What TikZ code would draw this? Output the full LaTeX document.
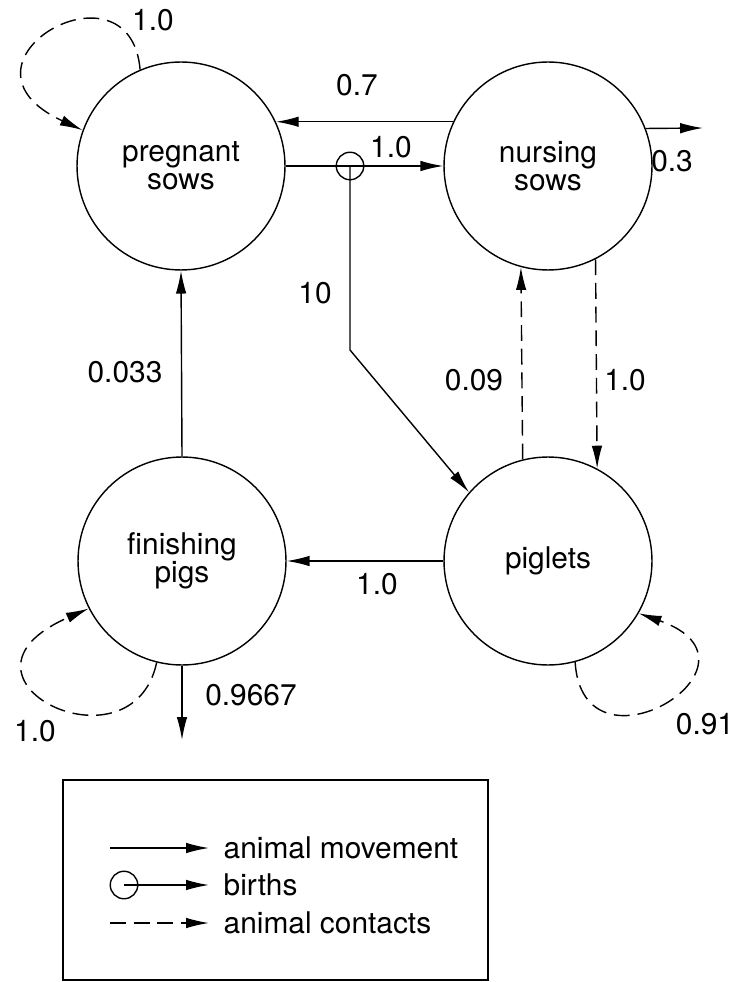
\documentclass[tikz,border=0pt]{standalone}
\usepackage{fontspec}
\setmainfont{TeX Gyre Heros}
\usetikzlibrary{arrows.meta}

\begin{document}
\begin{tikzpicture}[x=0.02cm,y=-0.02cm,line width=0.8pt,
  font=\fontsize{17}{16}\selectfont,
  state/.style={draw,circle,minimum size=4.16cm,inner sep=0pt,align=center},
  move/.style={-{Latex[length=13pt,width=6pt]}},
  contact/.style={move,dash pattern=on 9pt off 4.5pt},
  birth/.style={draw,circle,minimum size=0.55cm,inner sep=0pt}]
\useasboundingbox (0,0) rectangle (735,982);

% compartments
\node[state] (preg) at (181,166) {pregnant\\sows};
\node[state] (nurs) at (548,166) {nursing\\sows};
\node[state] (fin) at (182,561) {finishing\\pigs};
\node[state] (pig) at (548,561) {piglets};

% animal movement
\draw[move] (nurs.155) -- (preg.25);
\draw[move] (preg.east) -- (nurs.west);
\node[birth] (bth) at (350,166) {};
\coordinate (kink) at (350,350);
\draw[move] (bth.center) -- (kink) -- (pig.139.5);
\coordinate (out1) at (703,128);
\draw[move] (nurs.21.4) -- (out1);
\draw[move] (pig.west) -- (fin.east);
\draw[move] (fin.north) -- (preg.south);
\coordinate (out2) at (182,740);
\draw[move] (fin.south) -- (out2);

% animal contacts
\draw[contact] (pig.104.5) -- (nurs.255.5);
\draw[contact] (nurs.297.5) -- (pig.62.5);
\draw[contact] (preg.113) .. controls +(-10,-117) and +(-145,-67) .. (preg.160);
\draw[contact] (fin.256) .. controls +(-25,115) and +(-158,69) .. (fin.207);
\draw[contact] (pig.285) .. controls +(8,123) and +(142,50) .. (pig.330);

% rates
\node (r1) at (153,20) {1.0};
\node (r2) at (357,85) {0.7};
\node (r3) at (391,147) {1.0};
\node (r4) at (672,161) {0.3};
\node (r5) at (315,293) {10};
\node (r6) at (125,372) {0.033};
\node (r7) at (474,380) {0.09};
\node (r8) at (625,380) {1.0};
\node (r9) at (377,584) {1.0};
\node (r10) at (251,695) {0.9667};
\node (r11) at (35,731) {1.0};
\node (r12) at (705,724) {0.91};

% legend
\draw (63,780) rectangle (488,980);
\node[anchor=west,inner sep=0pt] (tmove) at (223,848) {animal movement};
\node[anchor=west,inner sep=0pt] (tbirth) at (223,885) {births};
\node[anchor=west,inner sep=0pt] (tcont) at (223,923) {animal contacts};
\coordinate (k1) at (110,848);
\node[birth] (kb) at (124,885) {};
\coordinate (k3) at (110,923);
\draw[move,shorten >=8pt] (k1) -- (tmove.west);
\draw[move,shorten >=8pt] (kb.center) -- (tbirth.west);
\draw[contact,shorten >=8pt] (k3) -- (tcont.west);
\end{tikzpicture}
\end{document}
